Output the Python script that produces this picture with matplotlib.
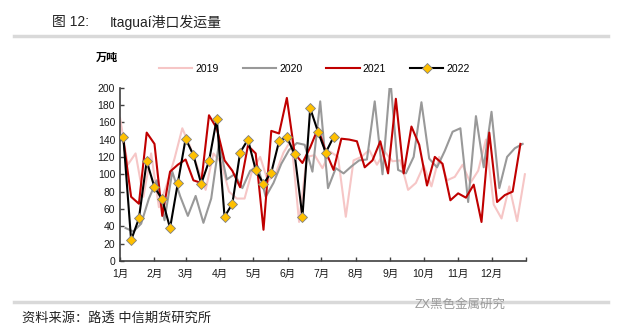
import numpy as np
import pandas as pd
import matplotlib
matplotlib.use("Agg")
import matplotlib.pyplot as plt
from matplotlib.lines import Line2D

plt.rcParams['font.family'] = ['Liberation Sans', 'Noto Sans CJK SC', 'DejaVu Sans']

# weekly Itaguai shipments, 万吨
years = ['2019', '2020', '2021', '2022']
start_dates = ['2019-01-01', '2020-01-06', '2021-01-04', '2022-01-04']

v2019 = [165, 111, 124, 74, 124, 62, 88, 118, 153, 132, 107, 82, 124, 113, 80, 72,
         72, 105, 120, 92, 101, 125, 140, 45, 120, 122, 107, 126, 120, 51,
         116, 120, 128, 111, 126, 115, 116, 82, 90, 110, 86, 120, 93, 97,
         111, 90, 104, 140, 65, 49, 86, 46, 100]
v2020 = [38, 34, 43, 72, 93, 47, 103, 75, 52, 75, 44, 72, 136, 94, 100, 84,
         104, 109, 74, 90, 112, 128, 136, 134, 103, 184, 84, 107, 101, 109,
         116, 117, 184, 100, 210, 105, 101, 120, 183, 118, 108, 127, 149,
         153, 68, 167, 108, 172, 84, 120, 130, 135]
v2021 = [140, 74, 66, 148, 135, 52, 103, 111, 117, 93, 90, 168, 153, 116, 104,
         85, 133, 124, 36, 150, 147, 188, 124, 113, 131, 153, 126, 105, 141,
         140, 138, 108, 116, 138, 101, 187, 101, 155, 134, 87, 120, 112, 70,
         78, 73, 88, 45, 148, 68, 76, 80, 135]
v2022 = [143, 24, 49, 115, 85, 71, 38, 90, 141, 122, 89, 115, 164, 51, 66,
         125, 140, 105, 89, 102, 138, 143, 123, 51, 176, 149, 125, 143]

month_labels = [f'{m}月' for m in range(1, 13)]
month_starts = [0, 31, 59, 90, 120, 151, 181, 212, 243, 273, 304, 334, 365]

series = [v2019, v2020, v2021, v2022]
colors = ['#f6c6c6', '#999999', '#c00000', '#000000']

fig = plt.figure(figsize=(6.19, 3.32), dpi=100)
ax = fig.add_axes([120 / 619, 1 - 261 / 332, 406 / 619, 173.5 / 332])

handles = []
for yr, start, vals, col in zip(years, start_dates, series, colors):
    dates = pd.date_range(start, periods=len(vals), freq='7D')
    x = np.asarray(dates.dayofyear) - 1
    if yr == '2022':
        h, = ax.plot(x, vals, color=col, lw=1.5, marker='D', ms=4.6,
                     mfc='#ffc000', mec='#7f7f7f', mew=0.6, zorder=5)
    else:
        h, = ax.plot(x, vals, color=col, lw=1.5)
    handles.append(h)

ax.set_xlim(0, 365)
ax.set_ylim(0, 200)
ax.set_yticks(range(0, 201, 20))
ax.set_xticks(month_starts)
ax.set_xticklabels(month_labels + [''])
ax.tick_params(axis='both', direction='in', length=3, width=1,
               color='#404040', labelsize=7.5, labelcolor='#1a1a1a')
ax.tick_params(axis='x', pad=6)
for s in ['top', 'right']:
    ax.spines[s].set_visible(False)
for s in ['left', 'bottom']:
    ax.spines[s].set_color('#404040')
    ax.spines[s].set_linewidth(1.2)

fig.legend(handles, years, loc='center', bbox_to_anchor=(0.508, 1 - 69 / 332),
           ncol=4, frameon=False, fontsize=7.5, handlelength=3.2,
           handletextpad=0.3, columnspacing=2.3)

fig.text(96 / 619, 1 - 58 / 332, '万吨', fontsize=8, fontweight='bold', va='center')

# header and footer
fig.text(52 / 619, 1 - 22 / 332, '图 12:', fontsize=10, va='center', color='#222222')
fig.text(110 / 619, 1 - 22 / 332, 'Itaguaí港口发运量', fontsize=10, va='center',
         color='#222222')
fig.add_artist(Line2D([14 / 619, 608 / 619], [1 - 36 / 332] * 2, color='#d9d9d9', lw=2.5))
fig.add_artist(Line2D([14 / 619, 608 / 619], [1 - 302 / 332] * 2, color='#d9d9d9', lw=2.5))
fig.text(22 / 619, 1 - 318 / 332, '资料来源：路透 中信期货研究所', fontsize=9.5,
         va='center', color='#222222')
fig.text(415 / 619, 1 - 305 / 332, 'ZX黑色金属研究', fontsize=9, va='center',
         color='#9a9a9a')

fig.savefig('out.png', dpi=100)
